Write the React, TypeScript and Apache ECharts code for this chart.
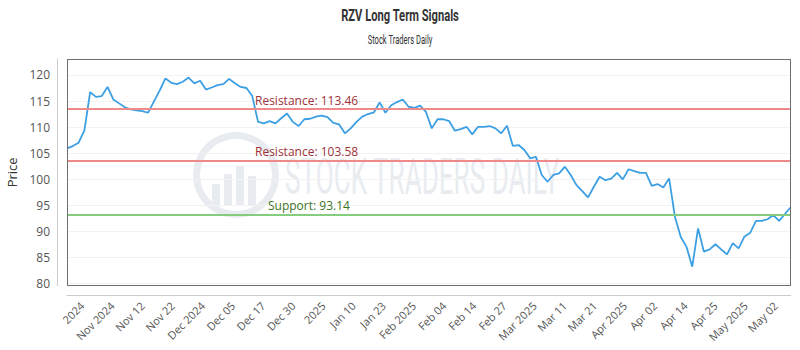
import React, { useEffect, useRef } from "react";
import * as echarts from "echarts";

const prices = [
  105.9, 106.35, 107.0, 109.3, 116.7, 115.8, 115.95, 117.7, 115.3, 114.55,
  113.8, 113.4, 113.2, 113.07, 112.75, 114.9, 117.0, 119.35, 118.5, 118.25,
  118.7, 119.5, 118.4, 118.9, 117.2, 117.6, 118.05, 118.25, 119.25, 118.4,
  117.7, 117.5, 115.95, 111.0, 110.7, 111.15, 110.7, 111.7, 112.6, 111.0,
  110.2, 111.5, 111.6, 112.0, 112.2, 111.9, 110.8, 110.5, 108.8, 109.75,
  111.0, 112.0, 112.5, 112.8, 114.75, 112.75, 114.2, 114.8, 115.3, 113.9,
  113.7, 114.1, 112.9, 109.75, 111.5, 111.5, 111.15, 109.3, 109.6, 110.05,
  108.6, 110.05, 110.05, 110.2, 109.75, 108.8, 110.25, 106.4, 106.55, 105.6,
  104.0, 104.3, 100.8, 99.5, 100.8, 101.1, 102.4, 100.8, 98.85, 97.7,
  96.5, 98.55, 100.45, 99.8, 100.1, 101.2, 99.95, 101.9, 101.55, 101.2,
  101.2, 98.7, 99.05, 98.4, 100.15, 92.8, 88.95, 87.0, 83.2, 90.55,
  86.1, 86.5, 87.5, 86.5, 85.55, 87.7, 86.7, 88.95, 89.7, 92.0,
  92.0, 92.3, 93.1, 92.0, 93.3, 94.6,
];

const pointIndex = prices.map((_, i) => String(i));

const xTickLabels = [
  "2024", "Nov 2024", "Nov 12", "Nov 22", "Dec 2024", "Dec 05", "Dec 17", "Dec 30",
  "2025", "Jan 10", "Jan 23", "Feb 2025", "Feb 04", "Feb 14", "Feb 27", "Mar 2025",
  "Mar 11", "Mar 21", "Apr 2025", "Apr 02", "Apr 14", "Apr 25", "May 2025", "May 02",
];

const yTicks = [80, 85, 90, 95, 100, 105, 110, 115, 120];
const yMin = 79.54;
const yMax = 123.07;

const resistanceLevels = [113.46, 103.58];
const supportLevels = [93.14];

const titleText = "RZV Long Term Signals";
const subtitleText = "Stock Traders Daily";
const watermarkText = "STOCK TRADERS DAILY";

function fitScale(text: string, font: string, target: number): number {
  try {
    const c = document.createElement("canvas");
    const ctx = c.getContext("2d");
    if (!ctx) return 1;
    ctx.font = font;
    const w = ctx.measureText(text).width;
    return w > 0 ? target / w : 1;
  } catch (e) {
    return 1;
  }
}

export default function App() {
  const ref = useRef<HTMLDivElement>(null);

  useEffect(() => {
    if (!ref.current) return;
    document.body.style.margin = "0";
    const chart = echarts.init(ref.current, undefined, { renderer: "svg" });
    const base = "'Open Sans', sans-serif";
    const cond = "Roboto, sans-serif";

    const titleScale = fitScale(titleText, "bold 16px Roboto", 118);
    const subScale = fitScale(subtitleText, "12px Roboto", 65);
    const wmScale = fitScale(watermarkText, "50px Roboto", 275);

    const markData: any[] = [
      ...resistanceLevels.map((v) => ({
        yAxis: v,
        lineStyle: { color: "#ee8a8a", width: 2, type: "solid" },
        label: {
          formatter: "Resistance: " + v.toFixed(2),
          color: "#9e3238",
          distance: [188, 3],
        },
      })),
      ...supportLevels.map((v) => ({
        yAxis: v,
        lineStyle: { color: "#86cc7e", width: 2, type: "solid" },
        label: {
          formatter: "Support: " + v.toFixed(2),
          color: "#3b7526",
          distance: [201, 3],
        },
      })),
    ];

    const wmColor = "#e8ecf1";
    const frameColor = "#6f6f6f";

    chart.setOption({
      animation: false,
      backgroundColor: "#ffffff",
      graphic: [
        {
          type: "text",
          x: 400,
          y: 15,
          scaleX: titleScale,
          style: {
            text: titleText,
            fontFamily: cond,
            fontSize: 16,
            fontWeight: "bold",
            fill: "#333333",
            textAlign: "center",
            textVerticalAlign: "middle",
          },
        },
        {
          type: "text",
          x: 400,
          y: 40,
          scaleX: subScale,
          style: {
            text: subtitleText,
            fontFamily: cond,
            fontSize: 12,
            fill: "#333333",
            textAlign: "center",
            textVerticalAlign: "middle",
          },
        },
        {
          type: "group",
          silent: true,
          z: 0,
          children: [
            { type: "ring", shape: { cx: 236, cy: 175, r: 43, r0: 36 }, style: { fill: wmColor } },
            { type: "rect", shape: { x: 212, y: 184, width: 8, height: 22 }, style: { fill: wmColor } },
            { type: "rect", shape: { x: 224, y: 174, width: 8, height: 32 }, style: { fill: wmColor } },
            { type: "rect", shape: { x: 236, y: 166, width: 8, height: 40 }, style: { fill: wmColor } },
            { type: "rect", shape: { x: 248, y: 176, width: 8, height: 30 }, style: { fill: wmColor } },
            {
              type: "text",
              x: 285,
              y: 177,
              scaleX: wmScale,
              style: {
                text: watermarkText,
                fontFamily: cond,
                fontSize: 50,
                fill: wmColor,
                textVerticalAlign: "middle",
              },
            },
          ],
        },
        { type: "line", silent: true, z: 50, shape: { x1: 67, y1: 59.5, x2: 791, y2: 59.5 }, style: { stroke: frameColor, lineWidth: 1 } },
        { type: "line", silent: true, z: 50, shape: { x1: 67, y1: 285.5, x2: 791, y2: 285.5 }, style: { stroke: frameColor, lineWidth: 1 } },
        { type: "line", silent: true, z: 50, shape: { x1: 67.5, y1: 59, x2: 67.5, y2: 286 }, style: { stroke: frameColor, lineWidth: 1 } },
        { type: "line", silent: true, z: 50, shape: { x1: 790.5, y1: 59, x2: 790.5, y2: 286 }, style: { stroke: frameColor, lineWidth: 1 } },
      ],
      grid: {
        left: 67,
        right: 9.3,
        top: 59,
        bottom: 64.3,
        show: false,
        containLabel: false,
        outerBoundsMode: "none",
      },
      xAxis: [
        {
          type: "category",
          data: pointIndex,
          boundaryGap: false,
          show: false,
        },
        {
          type: "category",
          data: xTickLabels,
          position: "bottom",
          boundaryGap: true,
          offset: 10,
          axisLine: { show: true, lineStyle: { color: "#cccccc" } },
          axisTick: { show: false },
          splitLine: { show: false },
          axisLabel: {
            rotate: 45,
            interval: 0,
            margin: 8,
            fontFamily: base,
            fontSize: 11,
            color: "#555555",
          },
        },
      ],
      yAxis: [
        {
          type: "value",
          min: yMin,
          max: yMax,
          position: "left",
          offset: 10,
          name: "Price",
          nameLocation: "middle",
          nameGap: 33,
          nameTextStyle: { fontFamily: base, fontSize: 13, color: "#333333" },
          axisLine: { show: true, lineStyle: { color: "#cccccc" } },
          axisTick: { show: false, customValues: yTicks },
          axisLabel: {
            customValues: yTicks,
            margin: 7,
            fontFamily: base,
            fontSize: 12,
            color: "#555555",
          },
          splitLine: { show: true, lineStyle: { color: "#f2f2f2" } },
        },
      ],
      series: [
        {
          type: "line",
          xAxisIndex: 0,
          yAxisIndex: 0,
          data: prices,
          showSymbol: false,
          lineStyle: { color: "#3d9fe3", width: 1.8 },
          itemStyle: { color: "#3d9fe3" },
          z: 3,
          markLine: {
            silent: true,
            symbol: ["none", "none"],
            label: {
              show: true,
              position: "insideStartTop",
              fontFamily: base,
              fontSize: 12,
            },
            data: markData,
          },
        },
      ],
    });

    return () => chart.dispose();
  }, []);

  return <div ref={ref} style={{ width: 800, height: 350 }} />;
}
